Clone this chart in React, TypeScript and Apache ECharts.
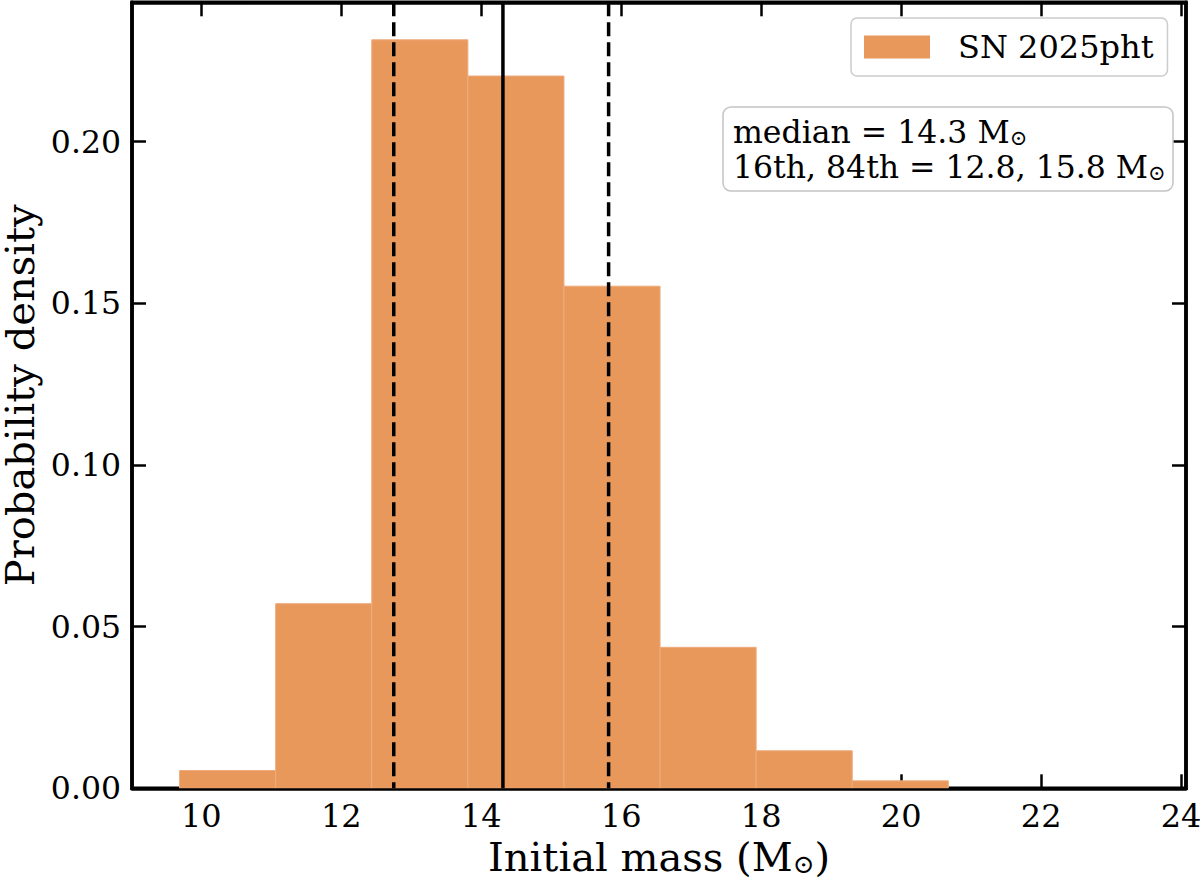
import React, { useEffect, useRef } from "react";
import * as echarts from "echarts";

// Histogram of initial-mass posterior samples (density normalised)
const binEdges = [9.69, 11.063, 12.436, 13.809, 15.182, 16.555, 17.928, 19.301, 20.674, 22.047, 23.42];
const densities = [0.0055, 0.0571, 0.2315, 0.2203, 0.1553, 0.0436, 0.0116, 0.0023, 0, 0];

// Summary statistics: 16th percentile, median, 84th percentile
const statNames = ["p16", "median", "p84"];
const statValues = [12.75, 14.31, 15.82];
const statDashed = [true, false, true];

const xTicks = [10, 12, 14, 16, 18, 20, 22, 24];
const yTicks = [0, 0.05, 0.1, 0.15, 0.2];

const seriesName = "SN 2025pht";
const xLimits = [9.01, 24.07];
const yLimits = [0, 0.2431];

const FONT = "DejaVu Serif";
const barColor = "#E8985A";

export default function App() {
  const ref = useRef<HTMLDivElement>(null);

  useEffect(() => {
    if (!ref.current) return;
    const chart = echarts.init(ref.current, undefined, { renderer: "svg" });

    const histData = densities.map((d, i) => [binEdges[i], binEdges[i + 1], d]);
    const lineData = statValues.map((v, i) => [v, statDashed[i] ? 1 : 0]);

    const median = statValues[statNames.indexOf("median")].toFixed(1);
    const p16 = statValues[statNames.indexOf("p16")].toFixed(1);
    const p84 = statValues[statNames.indexOf("p84")].toFixed(1);

    const axisCommon = {
      type: "value" as const,
      splitLine: { show: false },
      axisLine: { show: true, onZero: false, lineStyle: { color: "#000", width: 3.5 } },
    };

    const tickStyle = { show: true, inside: true, length: 14, lineStyle: { color: "#000", width: 2.5 } };

    const option: any = {
      animation: false,
      backgroundColor: "#fff",
      grid: {
        left: 132,
        right: 14,
        top: 2.3,
        bottom: 89.7,
        containLabel: false,
        outerBoundsMode: "none",
        show: true,
        borderColor: "#000",
        borderWidth: 3.5,
        backgroundColor: "transparent",
      },
      xAxis: [
        {
          ...axisCommon,
          position: "bottom",
          min: xLimits[0],
          max: xLimits[1],
          axisTick: { ...tickStyle, customValues: xTicks },
          axisLabel: {
            customValues: xTicks,
            fontSize: 32,
            fontFamily: FONT,
            color: "#000",
            margin: 12,
          },
          name: "{t|Initial mass (M}{s|⊙}{t|)}",
          nameLocation: "middle",
          nameGap: 47,
          nameTextStyle: {
            rich: {
              t: { fontSize: 40, lineHeight: 34, fontFamily: FONT, color: "#000" },
              s: {
                fontSize: 26,
                lineHeight: 20,
                fontFamily: FONT,
                color: "#000",
                padding: [14, 0, 0, 0],
              },
            },
          },
        },
        {
          ...axisCommon,
          position: "top",
          min: xLimits[0],
          max: xLimits[1],
          axisTick: { ...tickStyle, customValues: xTicks },
          axisLabel: { show: false },
        },
      ],
      yAxis: [
        {
          ...axisCommon,
          position: "left",
          min: yLimits[0],
          max: yLimits[1],
          axisTick: { ...tickStyle, customValues: yTicks },
          axisLabel: {
            customValues: yTicks,
            formatter: (v: number) => v.toFixed(2),
            fontSize: 31.5,
            fontFamily: FONT,
            color: "#000",
            margin: 11,
          },
          name: "Probability density",
          nameLocation: "middle",
          nameGap: 96,
          nameTextStyle: { fontSize: 40, lineHeight: 30, fontFamily: FONT, color: "#000" },
        },
        {
          ...axisCommon,
          position: "right",
          min: yLimits[0],
          max: yLimits[1],
          axisTick: { ...tickStyle, customValues: yTicks },
          axisLabel: { show: false },
        },
      ],
      legend: {
        data: [{ name: seriesName, icon: "rect" }],
        left: 851,
        top: 18,
        itemWidth: 66,
        itemHeight: 23,
        padding: [12, 14, 12, 13],
        backgroundColor: "rgba(255,255,255,0.8)",
        borderColor: "#cccccc",
        borderWidth: 1.5,
        borderRadius: 6,
        textStyle: {
          fontSize: 32,
          fontFamily: FONT,
          color: "#000",
          lineHeight: 34,
          padding: [0, 0, 0, 23],
        },
      },
      graphic: [
        {
          type: "rect",
          shape: { x: 723, y: 107, width: 450, height: 84, r: 8 },
          style: { fill: "#fff", stroke: "#c4c4c4", lineWidth: 1.5 },
          z: 100,
        },
        {
          type: "text",
          x: 733,
          y: 149,
          z: 101,
          style: {
            text:
              `{t|median = ${median} M}{s|⊙}\n` +
              `{t|16th, 84th = ${p16}, ${p84} M}{s|⊙}`,
            verticalAlign: "middle",
            align: "left",
            rich: {
              t: { fontSize: 31.5, fontFamily: FONT, fill: "#000", lineHeight: 35 },
              s: { fontSize: 21, fontFamily: FONT, fill: "#000", padding: [12, 0, 0, 0] },
            },
          },
        },
      ],
      series: [
        {
          name: seriesName,
          type: "custom",
          itemStyle: { color: barColor },
          encode: { x: [0, 1], y: 2 },
          clip: true,
          data: histData,
          renderItem: (params: any, api: any) => {
            const h = api.value(2);
            if (!(h > 0)) return null;
            const p0 = api.coord([api.value(0), h]);
            const p1 = api.coord([api.value(1), 0]);
            return {
              type: "rect",
              shape: { x: p0[0], y: p0[1], width: p1[0] - p0[0], height: p1[1] - p0[1] },
              style: { fill: barColor, stroke: "#EDAB7C", lineWidth: 1 },
            };
          },
          z: 1,
        },
        {
          name: "stats",
          type: "custom",
          data: lineData,
          encode: { x: 0 },
          renderItem: (params: any, api: any) => {
            const x = api.coord([api.value(0), 0])[0];
            const cs = params.coordSys;
            const dashed = api.value(1) === 1;
            return {
              type: "line",
              shape: { x1: x, y1: cs.y, x2: x, y2: cs.y + cs.height },
              style: {
                stroke: "#000",
                lineWidth: 3.5,
                lineDash: dashed ? [14, 6] : null,
              },
            };
          },
          z: 3,
        },
      ],
    };

    chart.setOption(option);
    return () => chart.dispose();
  }, []);

  return (
    <div
      ref={ref}
      style={{ position: "fixed", left: 0, top: 0, width: 1200, height: 878 }}
    />
  );
}
